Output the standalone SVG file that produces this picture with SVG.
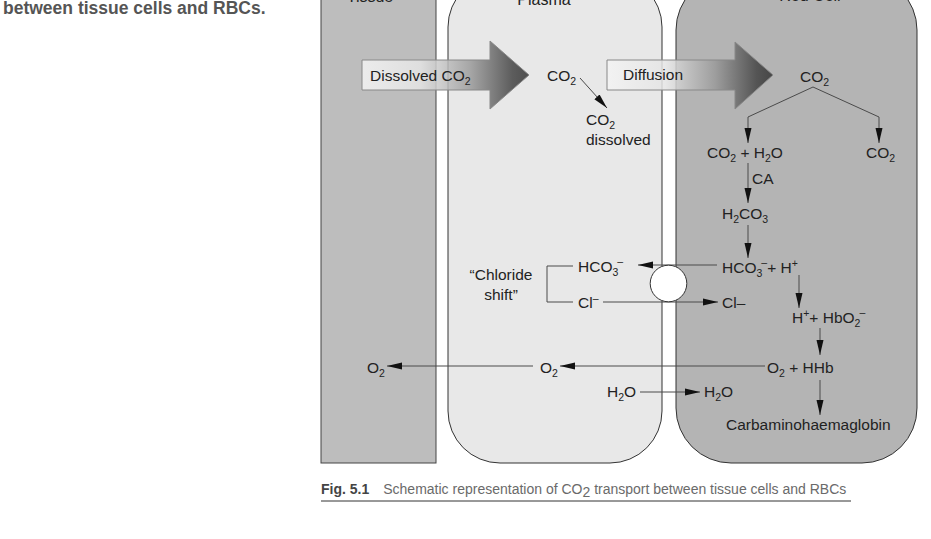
<svg xmlns="http://www.w3.org/2000/svg" width="931" height="539" viewBox="0 0 931 539">
<style>
text{font-family:"Liberation Sans",Arial,sans-serif;fill:#222;font-size:15.5px}
.sub{font-size:10.5px}
.hdr{font-size:16px;fill:#222}
.cap{font-size:14px;fill:#6a6a6a}
.capb{font-size:14px;fill:#444;font-weight:bold}
.top{font-size:17.5px;font-weight:bold;fill:#555}
.ln{fill:none;stroke:#4a4a4a;stroke-width:1}
.ar{marker-end:url(#ah)}
.big{stroke:#888;stroke-width:1;fill:url(#g1);fill-opacity:0.85}
</style>
<defs>
<marker id="ah" markerUnits="userSpaceOnUse" markerWidth="16" markerHeight="8" refX="15" refY="4" orient="auto">
<path d="M0,0.5 L15,4 L0,7.5 z" fill="#111"/>
</marker>
<linearGradient id="g1" x1="0" y1="0" x2="1" y2="0">
<stop offset="0" stop-color="#f4f4f4"/>
<stop offset="0.35" stop-color="#e4e4e4"/>
<stop offset="0.65" stop-color="#9a9a9a"/>
<stop offset="0.9" stop-color="#444"/>
<stop offset="1" stop-color="#333"/>
</linearGradient>
</defs>
<rect width="931" height="539" fill="#fff"/>
<text class="top" x="3" y="14">between tissue cells and RBCs.</text>

<g id="tissue">
<rect x="321" y="-10" width="115" height="473" fill="#bdbdbd" stroke="#444" stroke-width="1"/>
<text class="hdr" x="370" y="2" text-anchor="middle">Tissue</text>
</g>
<g id="plasma">
<rect x="448" y="-25" width="214" height="488" rx="52" ry="52" fill="#e8e8e8" stroke="#333" stroke-width="1"/>
<text class="hdr" x="544" y="5" text-anchor="middle">Plasma</text>
</g>
<g id="redcell">
<rect x="676" y="-25" width="241" height="488" rx="55" ry="55" fill="#b4b4b4" stroke="#333" stroke-width="1"/>
<text class="hdr" x="810" y="1" text-anchor="middle">Red Cell</text>
</g>

<g id="arrow-dissolved">
<path class="big" d="M362,60 L490,60 L490,41 L529,75 L490,109 L490,90 L362,90 z"/>
<text x="370" y="81">Dissolved CO<tspan class="sub" dy="4">2</tspan></text>
</g>
<g id="arrow-diffusion">
<path class="big" d="M607,60 L735,60 L735,42 L773,75 L735,109 L735,90 L607,90 z"/>
<text x="623" y="80">Diffusion</text>
</g>

<g id="connectors">
<line class="ln ar" x1="580" y1="78" x2="607" y2="108"/>
<polyline class="ln ar" points="813,87 748,117 748,143"/>
<polyline class="ln ar" points="813,87 879,117 879,143"/>
<line class="ln ar" x1="748" y1="163" x2="748" y2="203"/>
<line class="ln ar" x1="748" y1="225" x2="748" y2="258"/>
<line class="ln ar" x1="717" y1="265" x2="638" y2="265"/>
<polyline class="ln" points="573,266 547,266 547,302 573,302"/>
<line class="ln ar" x1="603" y1="302" x2="718" y2="302"/>
<line class="ln ar" x1="799" y1="275" x2="799" y2="308"/>
<line class="ln ar" x1="820" y1="328" x2="820" y2="355"/>
<line class="ln ar" x1="765" y1="366" x2="560" y2="366"/>
<line class="ln ar" x1="533" y1="366" x2="387" y2="366"/>
<line class="ln ar" x1="640" y1="392" x2="700" y2="392"/>
<line class="ln ar" x1="820" y1="380" x2="820" y2="415"/>
</g>

<g id="exchanger">
<circle cx="668.5" cy="283.5" r="18.3" fill="#fff" stroke="#333" stroke-width="1"/>
</g>

<g id="co2-plasma"><text x="547" y="81">CO<tspan class="sub" dy="4">2</tspan></text></g>
<g id="co2-dissolved">
<text x="586" y="125">CO<tspan class="sub" dy="4">2</tspan></text>
<text x="586" y="145">dissolved</text>
</g>
<g id="co2-red"><text x="800" y="82">CO<tspan class="sub" dy="4">2</tspan></text></g>
<g id="co2-h2o"><text x="707" y="158">CO<tspan class="sub" dy="4">2</tspan><tspan dy="-4"> + H</tspan><tspan class="sub" dy="4">2</tspan><tspan dy="-4">O</tspan></text></g>
<g id="co2-right"><text x="866" y="158">CO<tspan class="sub" dy="4">2</tspan></text></g>
<g id="ca"><text x="752" y="184">CA</text></g>
<g id="h2co3"><text x="722" y="219">H<tspan class="sub" dy="4">2</tspan><tspan dy="-4">CO</tspan><tspan class="sub" dy="4">3</tspan></text></g>
<g id="hco3-h"><text x="722" y="273">HCO<tspan class="sub" dy="4">3</tspan><tspan class="sub" dx="-1" dy="-11">–</tspan><tspan dy="7">+ H</tspan><tspan class="sub" dy="-6">+</tspan></text></g>
<g id="hco3-plasma"><text x="578" y="272">HCO<tspan class="sub" dy="4">3</tspan><tspan class="sub" dx="-1" dy="-11">–</tspan></text></g>
<g id="cl-plasma"><text x="578" y="308">Cl<tspan class="sub" dy="-6">–</tspan></text></g>
<g id="chloride-shift">
<text x="501" y="280" text-anchor="middle">“Chloride</text>
<text x="501" y="300" text-anchor="middle">shift”</text>
</g>
<g id="cl-red"><text x="722" y="308">Cl–</text></g>
<g id="h-hbo2"><text x="792" y="323">H<tspan class="sub" dy="-6">+</tspan><tspan dy="6">+ HbO</tspan><tspan class="sub" dy="4">2</tspan><tspan class="sub" dx="-1" dy="-11">–</tspan></text></g>
<g id="o2-hhb"><text x="767" y="373">O<tspan class="sub" dy="4">2</tspan><tspan dy="-4"> + HHb</tspan></text></g>
<g id="o2-plasma"><text x="540" y="373">O<tspan class="sub" dy="4">2</tspan></text></g>
<g id="o2-tissue"><text x="367" y="373">O<tspan class="sub" dy="4">2</tspan></text></g>
<g id="h2o-plasma"><text x="607" y="397">H<tspan class="sub" dy="4">2</tspan><tspan dy="-4">O</tspan></text></g>
<g id="h2o-red"><text x="704" y="397">H<tspan class="sub" dy="4">2</tspan><tspan dy="-4">O</tspan></text></g>
<g id="carbamino"><text x="726" y="430">Carbaminohaemaglobin</text></g>

<g id="caption">
<text x="321" y="494"><tspan class="capb">Fig. 5.1</tspan><tspan class="cap" dx="14">Schematic representation of CO</tspan><tspan class="cap" font-size="9.5px" dy="3">2</tspan><tspan class="cap" dy="-3"> transport between tissue cells and RBCs</tspan></text>
<line x1="321" y1="501" x2="851" y2="501" stroke="#333" stroke-width="1"/>
</g>
</svg>
